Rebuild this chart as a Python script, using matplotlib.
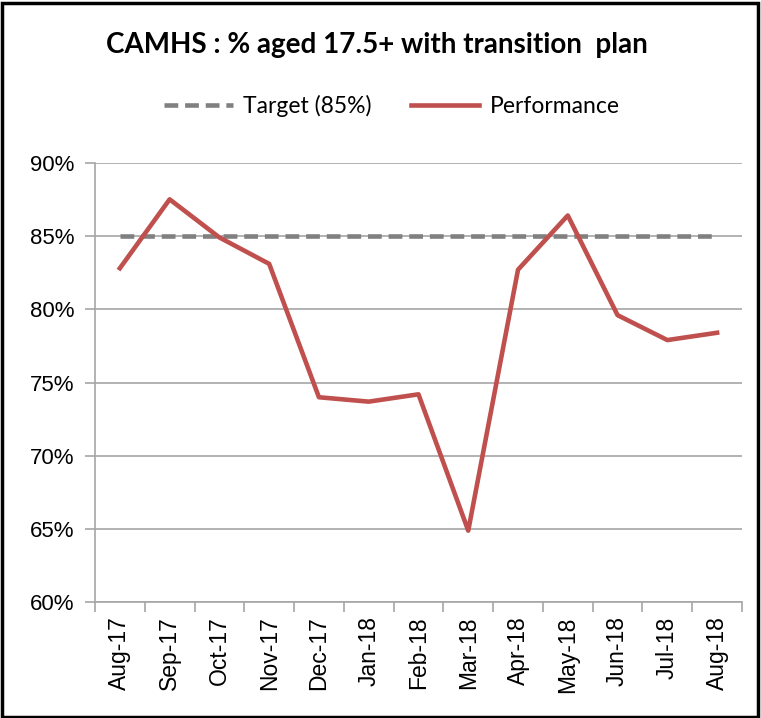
import matplotlib
matplotlib.use('Agg')
import matplotlib.pyplot as plt
from matplotlib.patches import Rectangle
from matplotlib.ticker import FixedLocator, FuncFormatter

months = ['Aug-17', 'Sep-17', 'Oct-17', 'Nov-17', 'Dec-17', 'Jan-18', 'Feb-18',
          'Mar-18', 'Apr-18', 'May-18', 'Jun-18', 'Jul-18', 'Aug-18']
performance = [82.8, 87.5, 84.9, 83.1, 74.0, 73.7, 74.2, 64.9, 82.7, 86.4, 79.6, 77.9, 78.4]
target = [85] * len(months)

fig = plt.figure(figsize=(7.61, 7.18), dpi=100)
ax = fig.add_axes([0.1248, 0.1609, 0.975 - 0.1248, 0.7734 - 0.1609])

x = list(range(len(months)))
ax.plot(x, target, color='#808080', lw=3.3, dashes=(3.0, 1.5), label='Target (85%)')
ax.plot(x, performance, color='#C0504D', lw=3.3, label='Performance')

ax.set_xlim(-0.5, len(months) - 0.5)
ax.set_ylim(60, 90)
ax.set_yticks(range(60, 91, 5))
ax.yaxis.set_major_formatter(FuncFormatter(lambda v, p: f'{v:.0f}%'))
ax.grid(axis='y', color='#a6a6a6', lw=1.2)
ax.set_axisbelow(True)

ax.set_xticks(x)
ax.set_xticklabels(months, rotation=90, fontsize=16.5, family='Liberation Sans')
ax.xaxis.set_minor_locator(FixedLocator([i - 0.5 for i in range(len(months) + 1)]))
ax.tick_params(axis='x', which='major', length=0, pad=10)
ax.tick_params(axis='x', which='minor', length=7, color='#a6a6a6', width=1.2)
ax.tick_params(axis='y', length=7, color='#a6a6a6', width=1.2, labelsize=16, pad=8)
for lab in ax.get_yticklabels():
    lab.set_family('Liberation Sans')

for s in ['top', 'right']:
    ax.spines[s].set_visible(False)
for s in ['left', 'bottom']:
    ax.spines[s].set_color('#a6a6a6')
    ax.spines[s].set_linewidth(1.2)

fig.text(0.495, 0.938, 'CAMHS : % aged 17.5+ with transition  plan', ha='center', va='center',
         fontsize=20, fontweight='bold', family='Lato')
fig.legend(loc='center', bbox_to_anchor=(0.515, 0.852), ncol=2, frameon=False,
           prop={'family': 'Lato', 'size': 16.5}, handlelength=3.0, handletextpad=0.45,
           columnspacing=1.7)

fig.patches.append(Rectangle((0.002, 0.002), 0.994, 0.994, transform=fig.transFigure,
                             fill=False, edgecolor='black', lw=2.5))

fig.savefig('out.png', dpi=100)
